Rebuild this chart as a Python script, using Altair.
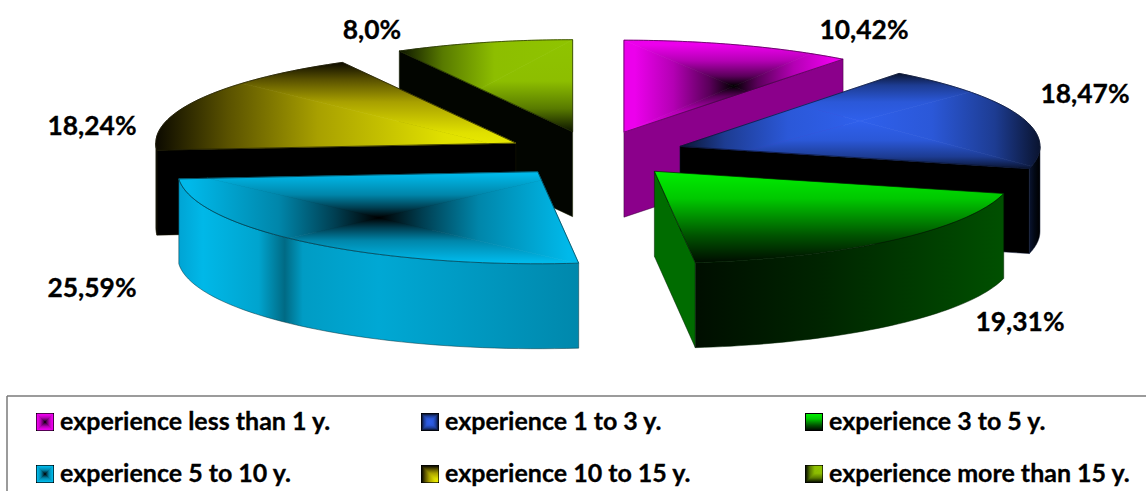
import math
import altair as alt

# Shares of respondents by length of professional experience
CATEGORIES = [
    "experience less than 1 y.",
    "experience 1 to 3 y.",
    "experience 3 to 5 y.",
    "experience 5 to 10 y.",
    "experience 10 to 15 y.",
    "experience more than 15 y.",
]
SHARES = [10.42, 18.47, 19.31, 25.59, 18.24, 8.0]
SHARE_LABELS = ["10,42%", "18,47%", "19,31%", "25,59%", "18,24%", "8,0%"]

# Pie geometry, in units of the pie radius
SQUASH = 0.2556
DEPTH = 0.236
EXPLODE = 0.25
PIE_SCALE = 360
PIE_ORIGIN = (595, 154)

FONT = "Lato"

# Gradient definitions for each slice's top surface and side walls
STYLES = [
    {"top": ("center", [(0, "#000000"), (.22, "#5a005a"), (.55, "#b400b4"), (.9, "#ec00ec")]),
     "face": "#8B008B", "face_at": "end", "wall": None, "edge": "#3a003a"},
    {"top": ("center", [(0, "#2F60EC"), (.4, "#2B58D8"), (.75, "#1D3C92"), (1, "#0A1430")]),
     "face": "#000000", "face_at": "end",
     "wall": [(0, "#0a1430"), (.5, "#020814"), (1, "#000000")], "edge": "#0a1430"},
    {"top": ("vertical", [(0, "#00EE00"), (.3, "#00C800"), (.7, "#005400"), (1, "#000c00")]),
     "face": "#006C00", "face_at": "end",
     "wall": [(0, "#000e00"), (.4, "#002400"), (1, "#005000")], "edge": "#002000"},
    {"top": ("center", [(0, "#000000"), (.22, "#003f52"), (.5, "#0086aa"), (.95, "#00B9EA")]),
     "face": None, "face_at": None,
     "wall": [(0, "#00A4D4"), (.06, "#00B8E8"), (.2, "#00A4CE"), (.265, "#006A84"),
              (.31, "#009CC4"), (.5, "#00A8D4"), (1, "#0088AC")], "edge": "#06343f"},
    {"top": ("corner_br", [(0, "#EDED00"), (.2, "#E0E000"), (.55, "#A8A000"), (.8, "#5A5200"), (1, "#0C0A00")]),
     "face": "#000000", "face_at": "start",
     "wall": [(0, "#000000"), (1, "#000000")], "edge": "#1a1800"},
    {"top": ("corner_tr", [(0, "#8FC400"), (.45, "#8DBE00"), (.75, "#587A00"), (1, "#0C1400")]),
     "face": "#020500", "face_at": "start", "wall": None, "edge": "#1c2600"},
]
PAINT_ORDER = [0, 5, 1, 4, 2, 3]

# Label centres and legend grid, in page pixels
LABEL_CENTRES = [(864, 31), (1085, 95), (1020, 323), (92, 289), (92, 127), (372, 31)]
LEGEND_COLUMNS = [37, 422, 806]
LEGEND_ROWS = [422, 474]
SWATCH = 16


def to_model(px, py):
    return ((px - PIE_ORIGIN[0]) / PIE_SCALE, (py - PIE_ORIGIN[1]) / PIE_SCALE)


def rim(apex, theta, drop=0.0):
    return (apex[0] + math.sin(theta), apex[1] - SQUASH * math.cos(theta) + drop)


def arc(apex, start, end, drop=0.0, steps=48):
    return [rim(apex, start + (end - start) * i / steps, drop) for i in range(steps + 1)]


def bbox(poly):
    xs = [p[0] for p in poly]
    ys = [p[1] for p in poly]
    return min(xs), min(ys), max(xs), max(ys)


def clip_to_triangle(poly, tri):
    out = poly
    for i in range(3):
        a, b, c = tri[i], tri[(i + 1) % 3], tri[(i + 2) % 3]
        side = lambda p: (b[0] - a[0]) * (p[1] - a[1]) - (b[1] - a[1]) * (p[0] - a[0])
        sign = 1 if side(c) >= 0 else -1
        kept = []
        for j, p in enumerate(out):
            q = out[(j + 1) % len(out)]
            sp, sq = side(p) * sign, side(q) * sign
            if sp >= 0:
                kept.append(p)
            if (sp >= 0) != (sq >= 0):
                t = sp / (sp - sq)
                kept.append((p[0] + (q[0] - p[0]) * t, p[1] + (q[1] - p[1]) * t))
        out = kept
        if not out:
            return []
    return out


def gradient(poly, p0, p1, stops):
    x0, y0, x1, y1 = bbox(poly)
    w, h = max(x1 - x0, 1e-6), max(y1 - y0, 1e-6)
    return {
        "gradient": "linear",
        "x1": (p0[0] - x0) / w, "y1": (p0[1] - y0) / h,
        "x2": (p1[0] - x0) / w, "y2": (p1[1] - y0) / h,
        "stops": [{"offset": o, "color": c} for o, c in stops],
    }


def shape(poly, fill=None, stroke=None, width=0.0):
    ring = [[round(x, 5), round(y, 5)] for x, y in poly] + [[round(poly[0][0], 5), round(poly[0][1], 5)]]
    feature = {"type": "Feature", "properties": {},
               "geometry": {"type": "Polygon", "coordinates": [ring]}}
    data = alt.Data(values={"type": "FeatureCollection", "features": [feature]},
                    format=alt.DataFormat(property="features", type="json"))
    kw = {"fill": fill if fill is not None else "transparent"}
    if stroke:
        kw.update(stroke=stroke, strokeWidth=width)
    else:
        kw.update(strokeWidth=0)
    return alt.Chart(data).mark_geoshape(**kw)


def shaded(poly, spec):
    """Fill a convex outline with a linear, centre-out or corner-out shading."""
    kind, stops = spec
    x0, y0, x1, y1 = bbox(poly)
    if kind == "vertical":
        return [shape(poly, gradient(poly, (x0, y0), (x0, y1), stops))]
    if kind == "center":
        c = ((x0 + x1) / 2, (y0 + y1) / 2)
        parts = [
            ([c, (x0, y0), (x1, y0)], (c[0], y0)),
            ([c, (x0, y1), (x1, y1)], (c[0], y1)),
            ([c, (x0, y0), (x0, y1)], (x0, c[1])),
            ([c, (x1, y0), (x1, y1)], (x1, c[1])),
        ]
        pieces = [(tri, c, end) for tri, end in parts]
    else:
        corner = (x1, y1) if kind == "corner_br" else (x1, y0)
        far = (x0, y0) if kind == "corner_br" else (x0, y1)
        pieces = [
            ([corner, far, (far[0], corner[1])], corner, (far[0], corner[1])),
            ([corner, far, (corner[0], far[1])], corner, (corner[0], far[1])),
        ]
    layers = []
    for tri, start, end in pieces:
        piece = clip_to_triangle(poly, tri)
        if len(piece) >= 3:
            # A hairline in the same shading closes the seam to the next piece
            fill = gradient(piece, start, end, stops)
            layers.append(shape(piece, fill, fill, 0.7))
    return layers


# Angular extent and displaced apex of each slice
total = sum(SHARES)
bounds = []
running = 0.0
for share in SHARES:
    start = running / total * 2 * math.pi
    running += share
    bounds.append((start, running / total * 2 * math.pi))

layers = []
for idx in PAINT_ORDER:
    start, end = bounds[idx]
    style = STYLES[idx]
    mid = (start + end) / 2
    apex = (EXPLODE * math.sin(mid), -EXPLODE * SQUASH * math.cos(mid))

    # Cut face on the side that turns towards the viewer
    if style["face"]:
        theta = end if style["face_at"] == "end" else start
        tip = rim(apex, theta)
        face = [apex, tip, (tip[0], tip[1] + DEPTH), (apex[0], apex[1] + DEPTH)]
        layers.append(shape(face, style["face"], style["edge"], 0.5))

    # Outer wall, only where the rim faces front
    lo, hi = max(start, math.pi / 2), min(end, 3 * math.pi / 2)
    if style["wall"] and lo < hi:
        upper = arc(apex, lo, hi)
        wall = upper + arc(apex, hi, lo, DEPTH)
        x0, y0, x1, y1 = bbox(wall)
        layers.append(shape(wall, gradient(wall, (x0, y0), (x1, y0), style["wall"]), style["edge"], 0.5))

    # Top surface with its outline
    top = [apex] + arc(apex, start, end)
    layers.extend(shaded(top, style["top"]))
    layers.append(shape(top, None, style["edge"], 0.7))

# Legend swatches share the slice shading
for idx, style in enumerate(STYLES):
    px = LEGEND_COLUMNS[idx % 3]
    py = LEGEND_ROWS[idx // 3]
    a = to_model(px, py - SWATCH / 2)
    b = to_model(px + SWATCH, py + SWATCH / 2)
    square = [a, (b[0], a[1]), b, (a[0], b[1])]
    layers.append(shape(square, "#000000", "#000000", 2))
    layers.extend(shaded(square, style["top"]))

legend_rows = [
    {"label": name, "px": LEGEND_COLUMNS[i % 3] + SWATCH + 7, "py": LEGEND_ROWS[i // 3]}
    for i, name in enumerate(CATEGORIES)
]
share_rows = [
    {"label": text, "px": pos[0], "py": pos[1]}
    for text, pos in zip(SHARE_LABELS, LABEL_CENTRES)
]

px_x = alt.X("px:Q", scale=None, axis=None)
py_y = alt.Y("py:Q", scale=None, axis=None)

share_text = alt.Chart(alt.Data(values=share_rows)).mark_text(
    font=FONT, fontWeight="bold", fontSize=26.4, color="#000000", align="center", baseline="middle",
    stroke="#000000", strokeWidth=0.3,
).encode(x=px_x, y=py_y, text="label:N")

legend_text = alt.Chart(alt.Data(values=legend_rows)).mark_text(
    font=FONT, fontWeight="bold", fontSize=25, color="#000000", align="left", baseline="middle",
    stroke="#000000", strokeWidth=0.3,
).encode(x=px_x, y=py_y, text="label:N")

frame_top = alt.Chart(alt.Data(values=[{"k": 0}])).mark_rule(color="#7a7a7a", strokeWidth=1.5).encode(
    x=alt.value(7), x2=alt.value(1146), y=alt.value(396))
frame_left = alt.Chart(alt.Data(values=[{"k": 0}])).mark_rule(color="#7a7a7a", strokeWidth=1.5).encode(
    x=alt.value(7), y=alt.value(396), y2=alt.value(491))

projection = alt.Projection(type="identity", scale=PIE_SCALE, translate=list(PIE_ORIGIN))
geo = alt.layer(*layers).project(**projection.to_dict())

chart = alt.layer(geo, frame_top, frame_left, share_text, legend_text).properties(
    width=1146, height=491, padding=0, background="white",
    autosize=alt.AutoSizeParams(type="none"),
).configure_view(stroke=None)

chart.save("out.html", embed_options={"renderer": "svg", "actions": False})
